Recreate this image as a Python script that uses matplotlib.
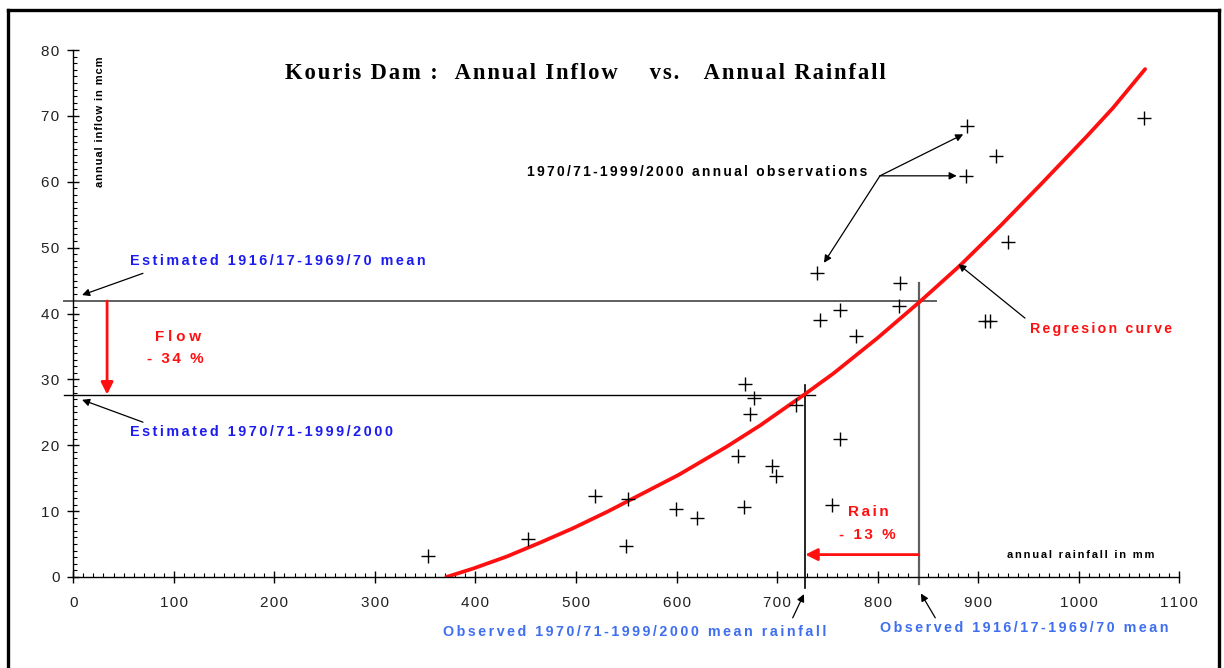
import matplotlib
matplotlib.use("Agg")
import matplotlib.pyplot as plt
from matplotlib.ticker import MultipleLocator, FuncFormatter
from matplotlib.lines import Line2D

# 1970/71-1999/2000 annual observations (rainfall mm, inflow mcm)
rain_obs = [353, 452, 519, 552, 550, 599, 620, 661, 668, 677,
            673, 667, 695, 699, 719, 740, 743, 755, 763, 763,
            778, 821, 822, 888, 889, 907, 912, 918, 930, 1065]
flow_obs = [3.2, 5.8, 12.3, 11.8, 4.7, 10.3, 8.9, 18.4, 29.3, 27.1,
            24.8, 10.7, 16.9, 15.4, 26.1, 46.2, 39.0, 11.0, 20.9, 40.6,
            36.6, 41.2, 44.7, 60.9, 68.5, 38.9, 38.9, 63.9, 50.9, 69.7]

# regression curve read along its length
curve_rain = [371, 398, 431, 464, 497, 531, 564, 602, 650, 683,
              728, 756, 800, 842, 882, 922, 961, 1008, 1034, 1066]
curve_flow = [0, 1.3, 3.1, 5.2, 7.4, 9.9, 12.5, 15.5, 19.8, 23.0,
              27.8, 30.9, 36.3, 41.8, 47.3, 53.3, 59.4, 66.9, 71.2, 77.1]

# means
rain_mean_old = 841   # observed 1916/17-1969/70
rain_mean_new = 728   # observed 1970/71-1999/2000
flow_mean_old = 41.9  # estimated 1916/17-1969/70
flow_mean_new = 27.7  # estimated 1970/71-1999/2000

SANS = ['Liberation Sans', 'DejaVu Sans']
SERIF = ['Liberation Serif', 'DejaVu Serif']
BLUE = '#1c1cf0'
LBLUE = '#3f6ff0'
RED = '#ff1010'


def spaced(s, n=1):
    # widen letter spacing with hair spaces
    return ('\u200a' * n).join(s)


fig = plt.figure(figsize=(12.24, 6.68), dpi=100)
ax = fig.add_axes([73.3 / 1224, 91 / 668, 1106 / 1224, 527 / 668])

ax.set_xlim(0, 1100)
ax.set_ylim(0, 80)
for s in ['top', 'right']:
    ax.spines[s].set_visible(False)
for s in ['left', 'bottom']:
    ax.spines[s].set_linewidth(1.0)

ax.xaxis.set_major_locator(MultipleLocator(100))
ax.xaxis.set_minor_locator(MultipleLocator(10))
ax.yaxis.set_major_locator(MultipleLocator(10))
ax.yaxis.set_minor_locator(MultipleLocator(1))
ax.tick_params(which='major', direction='inout', length=8, width=1)
ax.tick_params(which='minor', direction='in', length=3, width=0.8)
ax.tick_params(axis='x', which='major', pad=10)
ax.tick_params(axis='y', which='major', pad=6)
fmt = FuncFormatter(lambda v, p: spaced('%d' % v))
ax.xaxis.set_major_formatter(fmt)
ax.yaxis.set_major_formatter(fmt)
for lab in ax.get_xticklabels() + ax.get_yticklabels():
    lab.set_family(SANS)
    lab.set_fontsize(11)
    lab.set_color('#222222')

# mean lines
ax.plot([-9, 858], [flow_mean_old, flow_mean_old], color='#606060', lw=1.4, clip_on=False)
ax.plot([-9, 738], [flow_mean_new, flow_mean_new], color='black', lw=1.0, clip_on=False)
ax.plot([rain_mean_old, rain_mean_old], [-1.0, 44.7], color='#606060', lw=1.6, clip_on=False)
ax.plot([rain_mean_new, rain_mean_new], [-1.7, 29.1], color='black', lw=1.2, clip_on=False)

# regression curve and observations
ax.plot(curve_rain, curve_flow, color=RED, lw=2.7, solid_capstyle='round',
        solid_joinstyle='round')
ax.plot(rain_obs, flow_obs, linestyle='none', marker='+', markersize=10,
        markeredgewidth=1.0, color='black')

# reduction arrows
ax.annotate('', xy=(33.6, flow_mean_new), xytext=(33.6, flow_mean_old),
            arrowprops=dict(arrowstyle='-|>', color=RED, lw=2, mutation_scale=18,
                            shrinkA=0, shrinkB=0))
ax.annotate('', xy=(rain_mean_new, 3.4), xytext=(rain_mean_old, 3.4),
            arrowprops=dict(arrowstyle='-|>', color=RED, lw=2, mutation_scale=18,
                            shrinkA=0, shrinkB=0))

thin = dict(arrowstyle='-|>', color='black', lw=0.9, mutation_scale=11,
            shrinkA=0, shrinkB=0)


def pointer(xy, xytext):
    ax.annotate('', xy=xy, xytext=xytext, arrowprops=thin, annotation_clip=False)


pointer((8.7, 42.8), (69.3, 46.1))
pointer((8.7, 26.9), (69.3, 23.5))
pointer((885.1, 67.2), (802.3, 60.9))
pointer((878.6, 60.9), (802.3, 60.9))
pointer((746.6, 47.7), (802.3, 60.9))
pointer((880.2, 47.5), (946.5, 39.3))
pointer((726.7, -2.6), (715.5, -6.2))
pointer((843.0, -2.5), (857.3, -6.2))

# texts
ax.text(509, 76.5, spaced('Kouris Dam :  Annual Inflow    vs.   Annual Rainfall'),
        family=SERIF, fontsize=16.3, fontweight='bold', ha='center', va='center')
ax.text(26.6, 79, spaced('annual inflow in mcm'), family=SANS, fontsize=8,
        fontweight='bold', rotation=90, ha='center', va='top')
ax.text(790, 61.5, spaced('1970/71-1999/2000 annual observations', 2), family=SANS,
        fontsize=10, fontweight='bold', ha='right', va='center')
ax.text(56.4, 48.0, spaced('Estimated 1916/17-1969/70 mean', 2), family=SANS,
        fontsize=10.4, fontweight='bold', color=BLUE, ha='left', va='center')
ax.text(56.4, 22.0, spaced('Estimated 1970/71-1999/2000', 2), family=SANS,
        fontsize=10.4, fontweight='bold', color=BLUE, ha='left', va='center')
ax.text(104, 36.4, spaced('Flow', 3), family=SANS, fontsize=11,
        fontweight='bold', color=RED, ha='center', va='center')
ax.text(101, 33.1, spaced('- 34 %', 2), family=SANS, fontsize=11,
        fontweight='bold', color=RED, ha='center', va='center')
ax.text(791, 9.9, spaced('Rain', 2), family=SANS, fontsize=11,
        fontweight='bold', color=RED, ha='center', va='center')
ax.text(790, 6.4, spaced('- 13 %', 2), family=SANS, fontsize=11,
        fontweight='bold', color=RED, ha='center', va='center')
ax.text(952, 37.7, spaced('Regresion curve', 2), family=SANS, fontsize=10.2,
        fontweight='bold', color=RED, ha='left', va='center')
ax.text(929, 3.3, spaced('annual rainfall in mm', 2), family=SANS, fontsize=8,
        fontweight='bold', ha='left', va='center')
ax.text(368, -8.3, spaced('Observed 1970/71-1999/2000 mean rainfall', 2), family=SANS,
        fontsize=10.3, fontweight='bold', color=LBLUE, ha='left', va='center')
ax.text(802, -7.8, spaced('Observed 1916/17-1969/70 mean', 2), family=SANS,
        fontsize=10.3, fontweight='bold', color=LBLUE, ha='left', va='center')

# outer frame, open at the bottom edge
x0, x1, yt = 7.5 / 1224, 1219 / 1224, 1 - 9.5 / 668
for xs, ys in [([x0, x0], [-0.1, yt]), ([x0, x1], [yt, yt]), ([x1, x1], [yt, -0.1])]:
    fig.add_artist(Line2D(xs, ys, color='black', lw=2.4, transform=fig.transFigure))

fig.savefig('out.png', dpi=100)
